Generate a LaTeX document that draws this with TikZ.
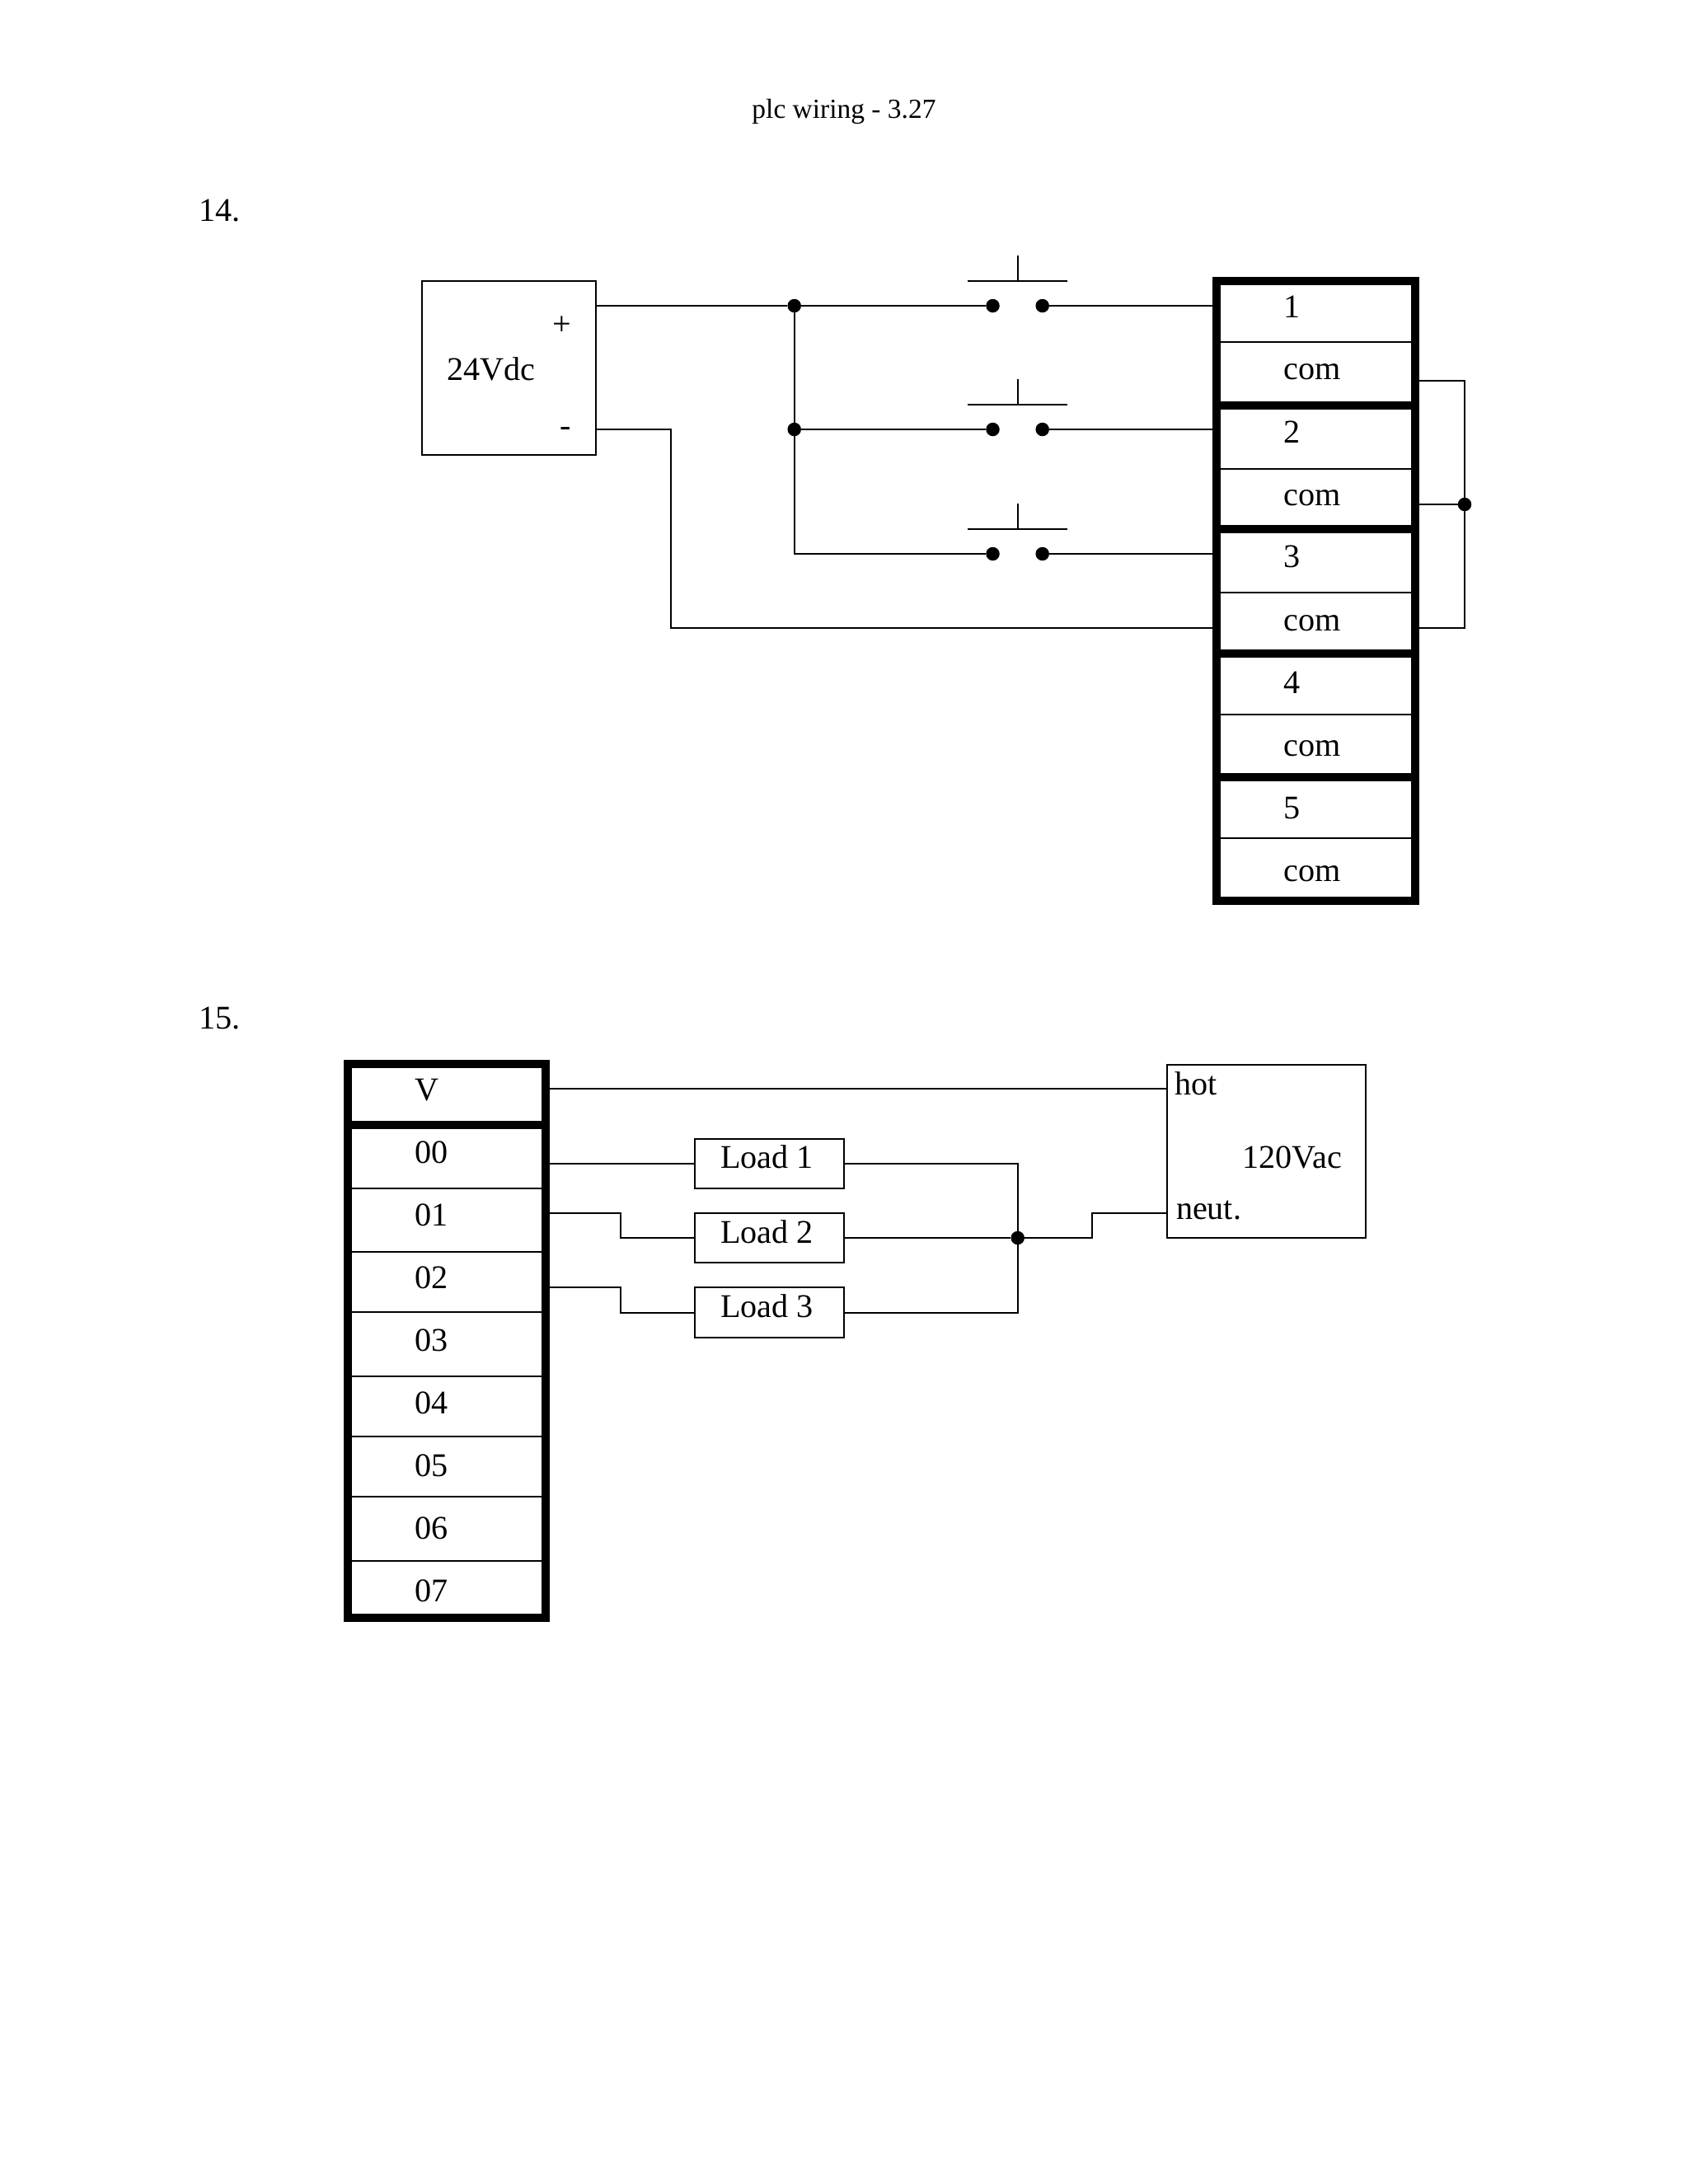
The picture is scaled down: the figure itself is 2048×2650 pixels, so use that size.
\documentclass[tikz,border=0pt]{standalone}
\usepackage{fontspec}
\setmainfont{Liberation Serif}
\def\unit{0.29883pt}
\tikzset{
  wire/.style={line width=0.6pt, line join=miter},
  box/.style args={#1 by #2}{draw, line width=0.6pt, rectangle, inner sep=0pt, outer sep=0pt,
    minimum width=#1*\unit, minimum height=#2*\unit},
  frame/.style args={#1 by #2}{box={#1 by #2}, line width=3pt},
  dot/.style={circle, fill=black, inner sep=0pt, outer sep=0pt, minimum size=16.5*\unit},
  lbl/.style={inner sep=0pt, outer sep=0pt, anchor=base, font=\fontsize{12}{14}\selectfont},
  lblw/.style={lbl, anchor=base west},
}
\begin{document}
\begin{tikzpicture}[x=0.29883pt, y=-0.29883pt]
\useasboundingbox (0,0) rectangle (2048,2650);

% headings
\node[lbl, font=\fontsize{10}{12}\selectfont] (title) at (1024,143.5) {plc wiring - 3.27};
\node[lblw] (q14) at (241.5,268.5) {14.};
\node[lblw] (q15) at (241.5,1248.5) {15.};

% 14: dc supply
\node[box={211.5 by 211}] (psu) at (617.4,446.5) {};
\node[lblw] (psuv) at (542,461.5) {24Vdc};
\node[lbl] (psup) at (681.5,406) {+};
\node[lbl] (psum) at (686,529) {-};

% 14: input card, one frame per input
\foreach \n/\top/\sep/\bot/\nb/\cb in {
  1/341/414.6/491.6/385.5/460.5,
  2/491.6/568.7/642/537/613.6,
  3/642/719/792.6/688.6/765.6,
  4/792.6/866.6/942.7/841.6/917,
  5/942.7/1017/1093/993.5/1069.5}{
  \node[frame={241 by {(\bot-\top)}}] (g\n) at (1596.5,{(\top+\bot)/2}) {};
  \draw[wire] (g\n.west |- 0,\sep) -- (g\n.east |- 0,\sep);
  \node[lbl] (num\n) at (1567.7,\nb) {\n};
  \node[lbl] (com\n) at (1592,\cb) {com};
}

% 14: push buttons
\foreach \n/\yy in {1/371,2/521,3/672}{
  \node[dot] (sa\n) at (1204.5,\yy) {};
  \node[dot] (sb\n) at (1264.7,\yy) {};
  \draw[wire] (1174,\yy-30.5) -- (1295,\yy-30.5);
  \draw[wire] (1234.6,\yy-30.5) -- (1234.6,\yy-61);
  \draw[wire] (sb\n) -- (g\n.west |- sb\n);
}
\node[dot] (j1) at (963.7,371) {};
\node[dot] (j2) at (963.7,521) {};
\coordinate (j3) at (963.7,672);
\draw[wire] (psu.east |- j1) -- (j1) -- (sa1);
\draw[wire] (j1) -- (j2) -- (sa2);
\draw[wire] (j2) -- (j3) -- (sa3);

% 14: common of the supply
\coordinate (m1) at (813.7,521);
\coordinate (m2) at (813.7,762);
\draw[wire] (psu.east |- m1) -- (m1) -- (m2) -- (g3.west |- m2);

% 14: commons tied together
\coordinate (b1) at (1777,461.5);
\node[dot] (b2) at (1777,612) {};
\coordinate (b3) at (1777,762);
\draw[wire] (g1.east |- b1) -- (b1) -- (b2);
\draw[wire] (g2.east |- b2) -- (b2);
\draw[wire] (g3.east |- b3) -- (b3) -- (b2);

% 15: output card
\node[frame={240.5 by 74}] (v) at (542,1328) {};
\node[frame={240.5 by 598}] (out) at (542,1664) {};
\foreach \sep in {1441.7,1518.7,1592.3,1669.7,1743,1816,1893.7}{
  \draw[wire] (out.west |- 0,\sep) -- (out.east |- 0,\sep);
}
\node[lbl] (vt) at (518,1335) {V};
\foreach \t/\yy in {00/1411.7,01/1487,02/1563,03/1639,04/1715,05/1791,06/1867,07/1943}{
  \node[lbl] (o\t) at (523.5,\yy) {\t};
}

% 15: loads
\node[box={181 by 60.3}] (l1) at (933.5,1412) {};
\node[box={181 by 60.6}] (l2) at (933.5,1502) {};
\node[box={181 by 60.4}] (l3) at (933.5,1592.5) {};
\node[lblw] (lt1) at (874,1417.5) {Load 1};
\node[lblw] (lt2) at (874,1508.5) {Load 2};
\node[lblw] (lt3) at (874,1598) {Load 3};

% 15: ac supply
\node[box={241 by 210.6}] (ac) at (1536.2,1397) {};
\node[lblw] (hot) at (1425,1328.5) {hot};
\node[lblw] (neut) at (1427,1479.5) {neut.};
\node[lblw] (acv) at (1507.5,1417.5) {120Vac};

% 15: wiring
\coordinate (hw) at (667,1321);
\draw[wire] (hw) -- (ac.west |- hw);
\draw[wire] (out.east |- l1) -- (l1);
\coordinate (k1) at (752.7,1471.7);
\coordinate (k2) at (752.7,1562.3);
\draw[wire] (out.east |- k1) -- (k1) -- (k1 |- l2) -- (l2);
\draw[wire] (out.east |- k2) -- (k2) -- (k2 |- l3) -- (l3);
\node[dot] (d) at (1234.7,1502) {};
\coordinate (n1) at (1234.7,1412);
\coordinate (n3) at (1234.7,1592.5);
\draw[wire] (l1) -- (n1) -- (d);
\draw[wire] (l2) -- (d);
\draw[wire] (l3) -- (n3) -- (d);
\coordinate (t1) at (1325,1502);
\coordinate (t2) at (1325,1471.7);
\draw[wire] (d) -- (t1) -- (t2) -- (ac.west |- t2);
\end{tikzpicture}
\end{document}
